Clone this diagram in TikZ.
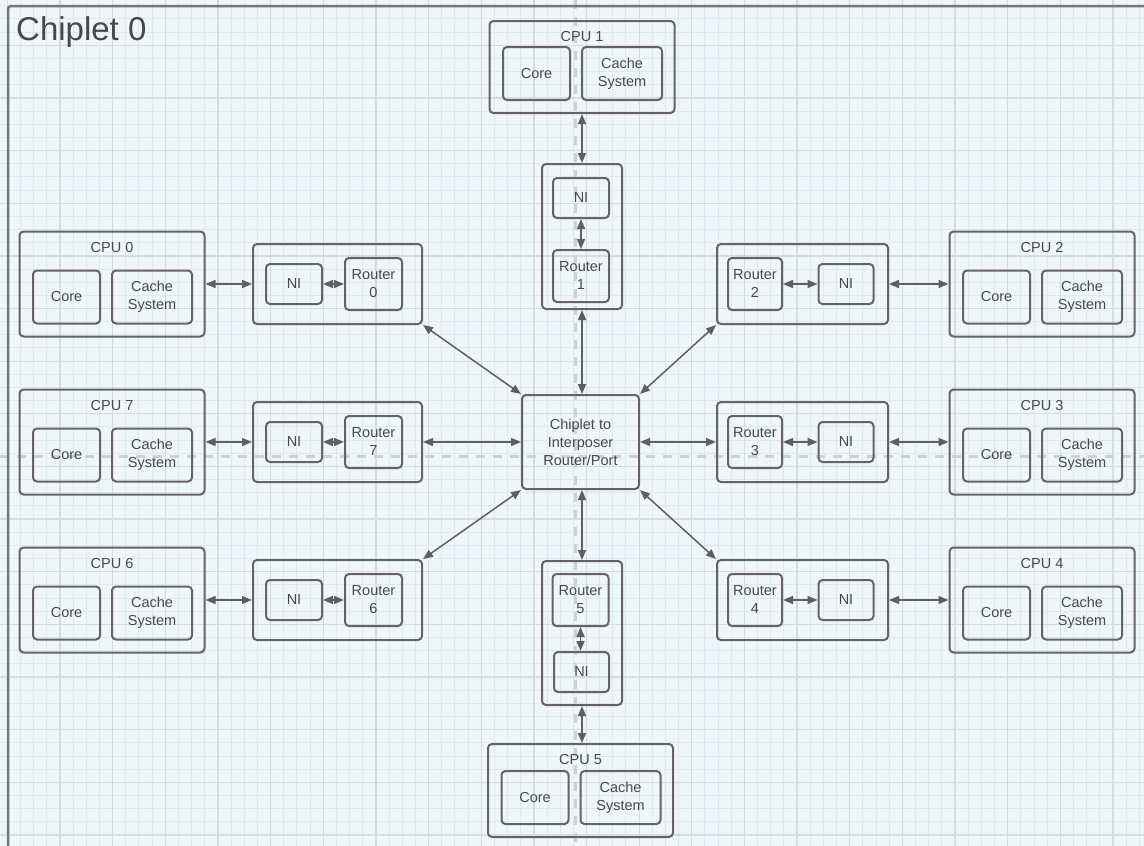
\documentclass[tikz,border=0pt]{standalone}
\usepackage{fontspec}
\setmainfont{Liberation Sans}
\usetikzlibrary{arrows.meta}
\definecolor{bgc}{RGB}{239,246,249}
\definecolor{gminor}{RGB}{223,232,236}
\definecolor{gmajor}{RGB}{212,220,224}
\definecolor{dashc}{RGB}{203,209,212}
\definecolor{linec}{RGB}{95,95,95}
\definecolor{boxc}{RGB}{100,100,100}
\definecolor{txtc}{RGB}{72,72,72}
\definecolor{borderc}{RGB}{118,118,118}

% cpu block: name, number, cx, cy, height
\newcommand\mkcpu[5]{%
  \node[obox, minimum width=185pt, minimum height=#5pt] (#1) at (#3,#4) {};
  \node[txt] (#1l) at ({#3},{#4-#5/2+16}) {CPU #2};
  \node[ibox, minimum width=67pt, minimum height=53pt] (#1c) at ({#3-45.5},{#4+#5/2-39.5}) {Core};
  \node[ibox, minimum width=80pt, minimum height=53pt] (#1s) at ({#3+40},{#4+#5/2-39.5}) {Cache\\System};
}
% left group: group, NI, router names, number, cy
\newcommand\mkgl[5]{%
  \node[obox, minimum width=169pt, minimum height=80pt] (#1) at (337.5,#5) {};
  \node[ibox, minimum width=56pt, minimum height=40pt] (#2) at (294,#5) {NI};
  \node[ibox, minimum width=57pt, minimum height=52pt] (#3) at (373.5,#5) {Router\\#4};
}
% right group
\newcommand\mkgr[5]{%
  \node[obox, minimum width=171pt, minimum height=80pt] (#1) at (802.5,#5) {};
  \node[ibox, minimum width=55pt, minimum height=40pt] (#2) at (846,#5) {NI};
  \node[ibox, minimum width=54pt, minimum height=52pt] (#3) at (755,#5) {Router\\#4};
}

\begin{document}
\begin{tikzpicture}[x=1pt,y=-1pt,
  txt/.style={font=\fontsize{14.5}{18}\selectfont, text=txtc, align=center, inner sep=0pt},
  obox/.style={draw=boxc, line width=2pt, rounded corners=4pt, inner sep=0pt},
  ibox/.style={obox, font=\fontsize{14.5}{18}\selectfont, text=txtc, align=center},
  arr/.style={draw=linec, line width=1.5pt, {Triangle[length=10pt,width=8pt]}-{Triangle[length=10pt,width=8pt]}},
  gmin/.style={draw=gminor, line width=1pt},
  gmaj/.style={draw=gmajor, line width=1.3pt}]
\useasboundingbox (0,0) rectangle (1144,846);
\clip (0,0) rectangle (1144,846);
\fill[bgc] (0,0) rectangle (1144,846);
% grid
\foreach \k in {-4,...,82} {\pgfmathsetmacro\xx{60+\k*13.1625}\draw[gmin] (\xx,0) -- (\xx,846);}
\foreach \k in {-4,...,61} {\pgfmathsetmacro\yy{45.25+\k*13.1625}\draw[gmin] (0,\yy) -- (1144,\yy);}
\foreach \k in {-1,...,21} {\pgfmathsetmacro\xx{60+\k*52.65}\draw[gmaj] (\xx,0) -- (\xx,846);}
\foreach \k in {-1,...,16} {\pgfmathsetmacro\yy{45.25+\k*52.65}\draw[gmaj] (0,\yy) -- (1144,\yy);}
% dashed centre lines
\draw[dashc, line width=3pt, dash pattern=on 9pt off 8pt] (575,0) -- (575,846);
\draw[dashc, line width=3pt, dash pattern=on 9pt off 8pt] (0,456) -- (1144,456);
% chiplet border
\draw[borderc, line width=2.5pt, rounded corners=3pt] (8,6) rectangle (1180,880);
\node[anchor=base west, font=\fontsize{33}{38}\selectfont, text=txtc, inner sep=0pt] (title) at (16,40) {Chiplet 0};

% CPUs
\mkcpu{cpu1}{1}{582}{67}{92}
\mkcpu{cpu0}{0}{112}{284}{105}
\mkcpu{cpu7}{7}{112}{442}{105}
\mkcpu{cpu6}{6}{112}{600}{105}
\mkcpu{cpu2}{2}{1042}{284}{105}
\mkcpu{cpu3}{3}{1042}{442}{105}
\mkcpu{cpu4}{4}{1042}{600}{105}
\mkcpu{cpu5}{5}{580.5}{790.5}{93}

% router groups
\mkgl{g0}{n0}{r0}{0}{284}
\mkgl{g7}{n7}{r7}{7}{442}
\mkgl{g6}{n6}{r6}{6}{600}
\mkgr{g2}{n2}{r2}{2}{284}
\mkgr{g3}{n3}{r3}{3}{442}
\mkgr{g4}{n4}{r4}{4}{600}

\node[obox, minimum width=80pt, minimum height=145pt] (tg) at (582,236.5) {};
\node[ibox, minimum width=56pt, minimum height=40pt] (n1) at (581,198) {NI};
\node[ibox, minimum width=56pt, minimum height=52pt] (r1) at (581,276) {Router\\1};

\node[obox, minimum width=80pt, minimum height=144pt] (bg) at (582,633) {};
\node[ibox, minimum width=56pt, minimum height=52pt] (r5) at (580.5,600) {Router\\5};
\node[ibox, minimum width=55pt, minimum height=40pt] (n5) at (581.5,672) {NI};

% centre
\node[ibox, minimum width=117pt, minimum height=94pt] (cc) at (580.5,442) {Chiplet to\\Interposer\\Router/Port};

% connectors
\draw[arr] (cpu1.south) -- (tg.north);
\draw[arr] (n1.south) -- (n1.south |- r1.north);
\draw[arr] (tg.south) -- (tg.south |- cc.north);
\draw[arr] (bg.north |- cc.south) -- (bg.north);
\draw[arr] (r5.south) -- (r5.south |- n5.north);
\draw[arr] (bg.south) -- (bg.south |- cpu5.north);

\draw[arr] (cpu0.east) -- (g0.west);
\draw[arr] (n0.east) -- (r0.west);
\draw[arr] (cpu7.east) -- (g7.west);
\draw[arr] (n7.east) -- (r7.west);
\draw[arr] (cpu6.east) -- (g6.west);
\draw[arr] (n6.east) -- (r6.west);
\draw[arr] (g7.east) -- (cc.west);

\draw[arr] (g2.east) -- (cpu2.west);
\draw[arr] (r2.east) -- (n2.west);
\draw[arr] (g3.east) -- (cpu3.west);
\draw[arr] (r3.east) -- (n3.west);
\draw[arr] (g4.east) -- (cpu4.west);
\draw[arr] (r4.east) -- (n4.west);
\draw[arr] (cc.east) -- (g3.west);

\draw[arr] (g0.south east) -- (cc.north west);
\draw[arr] (g2.south west) -- (cc.north east);
\draw[arr] (g6.north east) -- (cc.south west);
\draw[arr] (g4.north west) -- (cc.south east);
\end{tikzpicture}
\end{document}
